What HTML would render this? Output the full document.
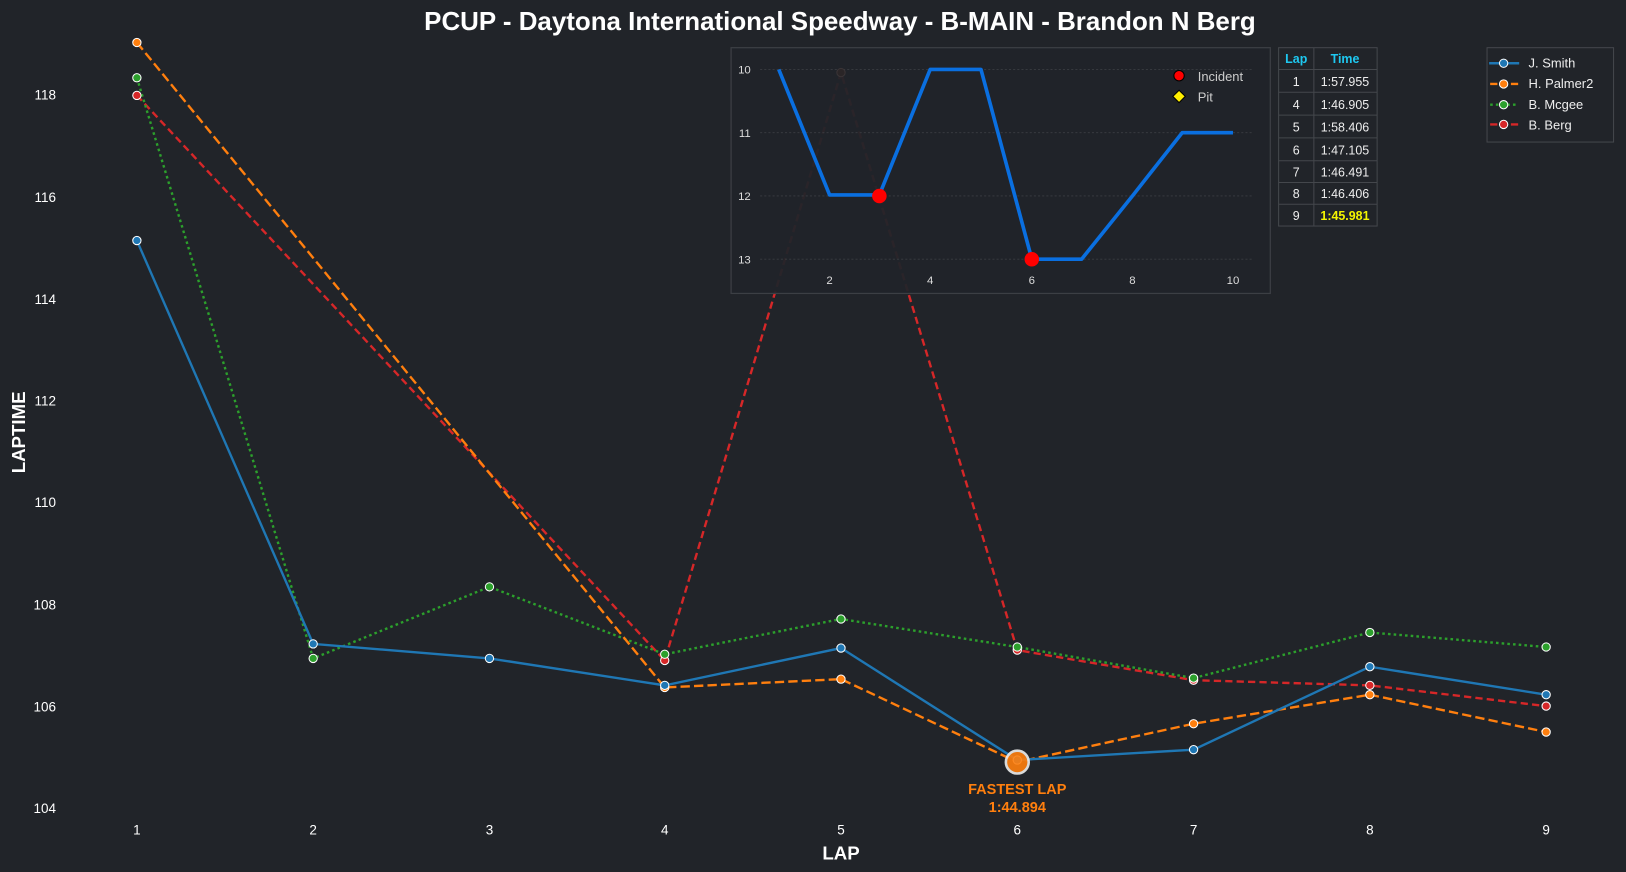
<!DOCTYPE html>
<html><head><meta charset="utf-8"><style>
html,body{margin:0;padding:0;background:#212429;}
svg{display:block;font-family:"Liberation Sans",Arial,sans-serif;}
</style></head><body>
<svg width="1626" height="872" viewBox="0 0 1568 841" preserveAspectRatio="none" xmlns="http://www.w3.org/2000/svg">
<rect width="1568" height="841" fill="#212429"/>
<text x="810" y="29" text-anchor="middle" font-size="25" font-weight="bold" fill="#fff">PCUP - Daytona International Speedway - B-MAIN - Brandon N Berg</text>
<g font-size="13" fill="#fff" text-anchor="end">
<text x="54" y="784">104</text><text x="54" y="686">106</text><text x="54" y="588">108</text><text x="54" y="489">110</text><text x="54" y="391">112</text><text x="54" y="293">114</text><text x="54" y="195">116</text><text x="54" y="96">118</text>
</g>
<g font-size="13" fill="#fff" text-anchor="middle">
<text x="132" y="805">1</text><text x="302" y="805">2</text><text x="472" y="805">3</text><text x="641" y="805">4</text><text x="811" y="805">5</text><text x="981" y="805">6</text><text x="1151" y="805">7</text><text x="1321" y="805">8</text><text x="1491" y="805">9</text>
</g>
<text x="811" y="829" text-anchor="middle" font-size="18" font-weight="bold" fill="#fff">LAP</text>
<text transform="translate(24,417) rotate(-90)" text-anchor="middle" font-size="18" font-weight="bold" fill="#fff">LAPTIME</text>
<g fill="none" stroke-width="2.3">
<polyline stroke="#d62728" stroke-dasharray="7,4" points="132,92 641,637 811,70 981,627 1151,656 1321,661 1491,681"/>
<polyline stroke="#2ca02c" stroke-dasharray="2.5,3" points="132,75 302,635 472,566 641,631 811,597 981,624 1151,654 1321,610 1491,624"/>
<polyline stroke="#ff7f0e" stroke-dasharray="9,4" points="132,41 641,663 811,655 981,735 1151,698 1321,670 1491,706"/>
<polyline stroke="#1f77b4" points="132,232 302,621 472,635 641,661 811,625 981,733 1151,723 1321,643 1491,670"/>
</g>
<g stroke="#fff" stroke-width="1">
<g fill="#d62728"><circle cx="132" cy="92" r="4"/><circle cx="641" cy="637" r="4"/><circle cx="981" cy="627" r="4"/><circle cx="1151" cy="656" r="4"/><circle cx="1321" cy="661" r="4"/><circle cx="1491" cy="681" r="4"/></g>
<g fill="#2ca02c"><circle cx="132" cy="75" r="4"/><circle cx="302" cy="635" r="4"/><circle cx="472" cy="566" r="4"/><circle cx="641" cy="631" r="4"/><circle cx="811" cy="597" r="4"/><circle cx="981" cy="624" r="4"/><circle cx="1151" cy="654" r="4"/><circle cx="1321" cy="610" r="4"/><circle cx="1491" cy="624" r="4"/></g>
<g fill="#ff7f0e"><circle cx="132" cy="41" r="4"/><circle cx="641" cy="663" r="4"/><circle cx="811" cy="655" r="4"/><circle cx="1151" cy="698" r="4"/><circle cx="1321" cy="670" r="4"/><circle cx="1491" cy="706" r="4"/></g>
<g fill="#1f77b4"><circle cx="132" cy="232" r="4"/><circle cx="302" cy="621" r="4"/><circle cx="472" cy="635" r="4"/><circle cx="641" cy="661" r="4"/><circle cx="811" cy="625" r="4"/><circle cx="981" cy="733" r="4"/><circle cx="1151" cy="723" r="4"/><circle cx="1321" cy="643" r="4"/><circle cx="1491" cy="670" r="4"/></g>
</g>
<circle cx="981" cy="735" r="11" fill="#ff7f0e" stroke="#eee" stroke-width="2.5" opacity="0.9"/>
<text x="981" y="766" text-anchor="middle" font-size="14" font-weight="bold" fill="#ff7f0e">FASTEST LAP</text>
<text x="981" y="783" text-anchor="middle" font-size="14" font-weight="bold" fill="#ff7f0e">1:44.894</text>
<rect x="705" y="46" width="520" height="237" fill="#212429" fill-opacity="0.95" stroke="#3c3f44" stroke-width="1.2"/>
<g stroke="#3a3d42" stroke-dasharray="2,2" stroke-width="0.8">
<line x1="733" y1="67" x2="1208" y2="67"/><line x1="733" y1="128" x2="1208" y2="128"/><line x1="733" y1="189" x2="1208" y2="189"/><line x1="733" y1="250" x2="1208" y2="250"/>
</g>
<circle cx="811" cy="70" r="4" fill="#2a2527" stroke="#3a3436"/>
<g font-size="11" fill="#ddd">
<text x="724" y="71" text-anchor="end">10</text><text x="724" y="132" text-anchor="end">11</text><text x="724" y="193" text-anchor="end">12</text><text x="724" y="254" text-anchor="end">13</text>
<text x="800" y="274" text-anchor="middle">2</text><text x="897" y="274" text-anchor="middle">4</text><text x="995" y="274" text-anchor="middle">6</text><text x="1092" y="274" text-anchor="middle">8</text><text x="1189" y="274" text-anchor="middle">10</text>
</g>
<polyline fill="none" stroke="#0a6fe0" stroke-width="3.5" stroke-linejoin="round" points="751,67 800,188 848,188 897,67 946,67 995,250 1043,250 1092,189 1140,128 1189,128"/>
<circle cx="848" cy="189" r="7" fill="#ff0000"/><circle cx="995" cy="250" r="7" fill="#ff0000"/>
<circle cx="1137" cy="73" r="5" fill="#ff0000" stroke="#000" stroke-width="1"/>
<text x="1155" y="78" font-size="12.5" fill="#ccc">Incident</text>
<polygon points="1137,87 1143,93 1137,99 1131,93" fill="#ffee00" stroke="#000" stroke-width="1"/>
<text x="1155" y="98" font-size="12.5" fill="#ccc">Pit</text>
<g stroke="#44474c" stroke-width="1" fill="none">
<rect x="1233" y="46" width="95" height="172"/>
<line x1="1267" y1="46" x2="1267" y2="218"/>
<line x1="1233" y1="67" x2="1328" y2="67"/><line x1="1233" y1="89" x2="1328" y2="89"/><line x1="1233" y1="111" x2="1328" y2="111"/><line x1="1233" y1="133" x2="1328" y2="133"/><line x1="1233" y1="155" x2="1328" y2="155"/><line x1="1233" y1="176" x2="1328" y2="176"/><line x1="1233" y1="197" x2="1328" y2="197"/>
</g>
<g font-size="12" text-anchor="middle" fill="#eee">
<text x="1250" y="61" fill="#1ec8f0" font-weight="bold">Lap</text><text x="1297" y="61" fill="#1ec8f0" font-weight="bold">Time</text>
<text x="1250" y="83">1</text><text x="1297" y="83">1:57.955</text>
<text x="1250" y="105">4</text><text x="1297" y="105">1:46.905</text>
<text x="1250" y="127">5</text><text x="1297" y="127">1:58.406</text>
<text x="1250" y="149">6</text><text x="1297" y="149">1:47.105</text>
<text x="1250" y="170">7</text><text x="1297" y="170">1:46.491</text>
<text x="1250" y="191">8</text><text x="1297" y="191">1:46.406</text>
<text x="1250" y="212">9</text><text x="1297" y="212" fill="#f5f500" font-weight="bold">1:45.981</text>
</g>
<rect x="1434" y="46" width="122" height="91" fill="#212429" stroke="#44474c" stroke-width="1"/>
<g stroke-width="2.3">
<line x1="1436" y1="61" x2="1465" y2="61" stroke="#1f77b4"/>
<line x1="1437" y1="81" x2="1464" y2="81" stroke="#ff7f0e" stroke-dasharray="7,3"/>
<line x1="1437" y1="101" x2="1464" y2="101" stroke="#2ca02c" stroke-dasharray="2.5,3"/>
<line x1="1437" y1="120" x2="1465" y2="120" stroke="#d62728" stroke-dasharray="7,3"/>
</g>
<g stroke="#fff" stroke-width="1">
<circle cx="1450" cy="61" r="4" fill="#1f77b4"/><circle cx="1450" cy="81" r="4" fill="#ff7f0e"/><circle cx="1450" cy="101" r="4" fill="#2ca02c"/><circle cx="1450" cy="120" r="4" fill="#d62728"/>
</g>
<g font-size="12.5" fill="#eee">
<text x="1474" y="65">J. Smith</text><text x="1474" y="85">H. Palmer2</text><text x="1474" y="105">B. Mcgee</text><text x="1474" y="125">B. Berg</text>
</g>
</svg>
</body></html>
